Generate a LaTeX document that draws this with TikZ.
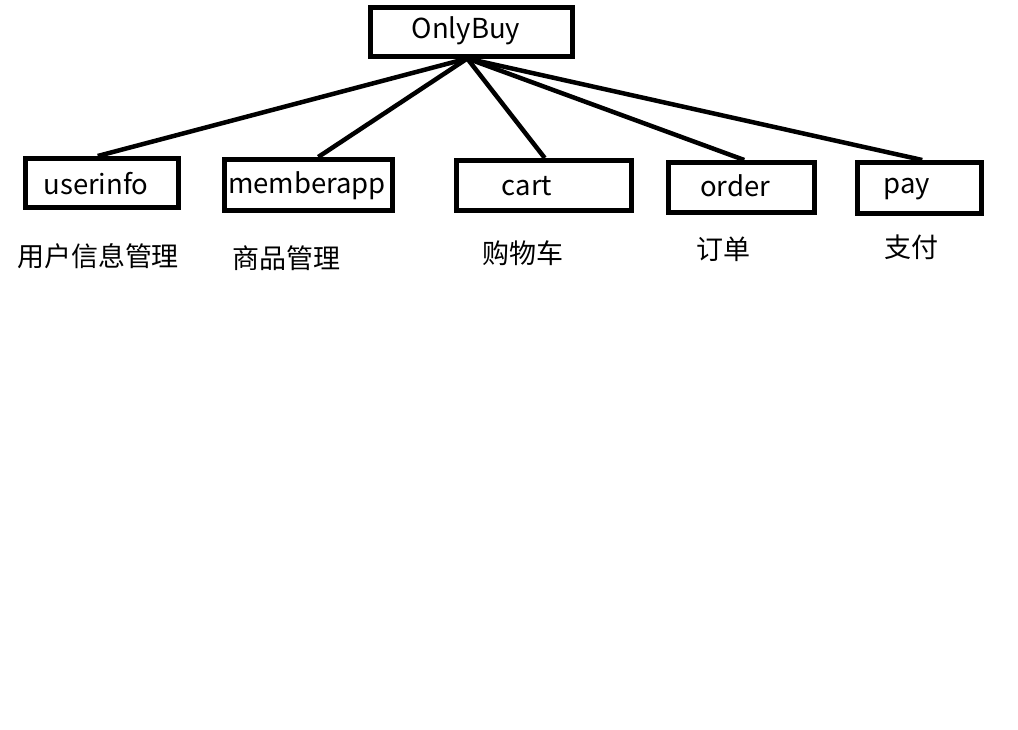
\documentclass[tikz,border=0pt]{standalone}
\usepackage{fontspec}
\setmainfont{Noto Sans CJK SC}
\begin{document}
\begin{tikzpicture}[x=1pt,y=-1pt,
  box/.style={draw=black,line width=4.5pt,inner sep=0pt,anchor=north west},
  lbl/.style={inner sep=0pt,font=\fontsize{27.5}{30}\selectfont},
  cjk/.style={inner sep=0pt,font=\fontsize{27}{30}\selectfont},
  link/.style={line width=4.5pt}]
\useasboundingbox (0,0) rectangle (1018,729);
\fill[white] (0,0) rectangle (1018,729);
% boxes
\node[box,minimum width=202pt,minimum height=49pt] (top) at (368,5) {};
\node[box,minimum width=153pt,minimum height=49pt] (b1) at (23,156) {};
\node[box,minimum width=168pt,minimum height=51pt] (b2) at (222,157) {};
\node[box,minimum width=175pt,minimum height=50pt] (b3) at (454,158) {};
\node[box,minimum width=146pt,minimum height=50pt] (b4) at (666,160) {};
\node[box,minimum width=124pt,minimum height=51pt] (b5) at (855,160) {};
% box texts
\node[lbl] (t0) at (466,31) {OnlyBuy};
\node[lbl] (t1) at (96,184) {userinfo};
\node[lbl] (t2) at (307,186) {memberapp};
\node[lbl] (t3) at (527,186) {cart};
\node[lbl] (t4) at (735,186) {order};
\node[lbl] (t5) at (907,189) {pay};
% captions
\node[cjk] (c1) at (98,256) {用户信息管理};
\node[cjk] (c2) at (286,258) {商品管理};
\node[cjk] (c3) at (523,253) {购物车};
\node[cjk] (c4) at (723,249) {订单};
\node[cjk] (c5) at (911,247) {支付};
% connectors
\coordinate (hub) at ([xshift=-4pt]top.south);
\draw[link] (hub) -- ([xshift=-4pt]b1.north);
\draw[link] (hub) -- ([xshift=10pt]b2.north);
\draw[link] (hub) -- ([xshift=1pt]b3.north);
\draw[link] (hub) -- ([xshift=3pt]b4.north);
\draw[link] (hub) -- ([xshift=3pt]b5.north);
\end{tikzpicture}
\end{document}
